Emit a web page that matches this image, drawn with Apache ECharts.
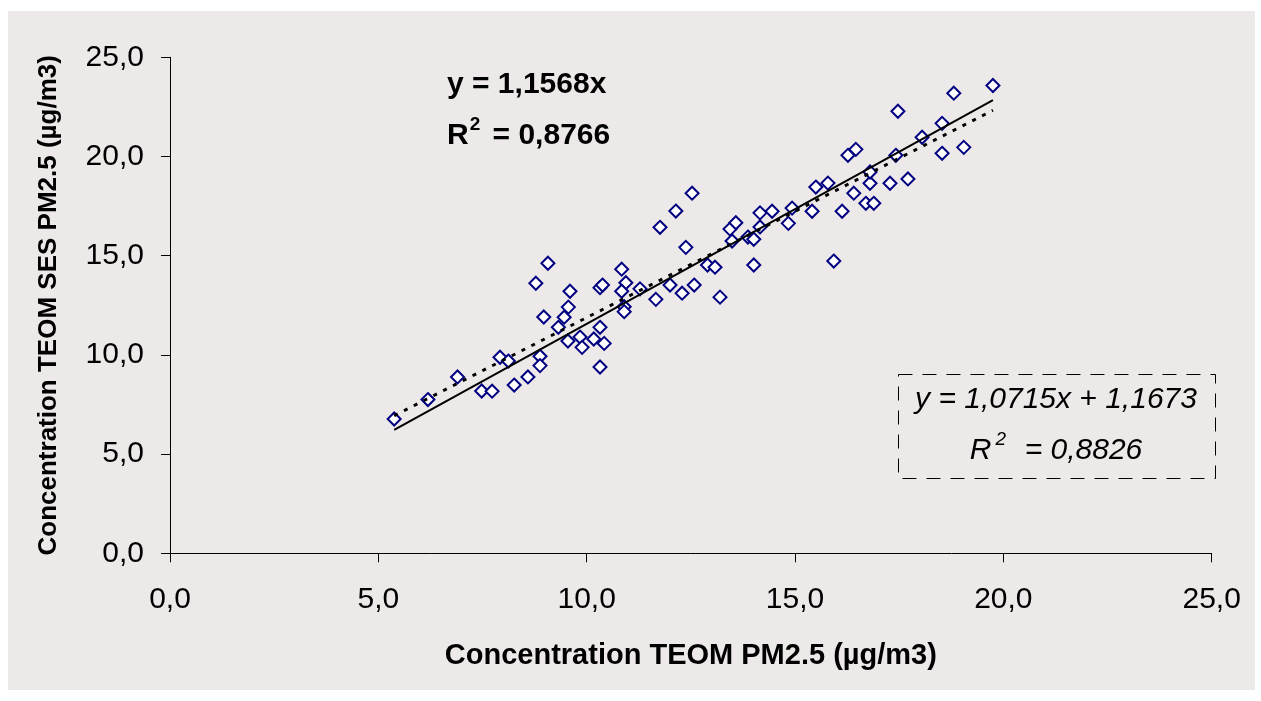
<!DOCTYPE html>
<html>
<head>
<meta charset="utf-8">
<script src="https://cdn.jsdelivr.net/npm/echarts@6/dist/echarts.min.js"></script>
<style>
html,body{margin:0;padding:0;background:#ffffff;}
#chart{width:1261px;height:701px;}
</style>
</head>
<body>
<div id="chart"></div>
<script>
// TEOM PM2.5 (x) vs TEOM SES PM2.5 (y), µg/m3
const xValues = [5.38,6.19,6.90,7.48,7.73,7.92,8.12,8.26,8.59,8.78,
  8.88,8.88,8.97,9.07,9.32,9.46,9.56,9.60,9.55,9.84,
  9.89,10.17,10.32,10.42,10.32,10.32,10.38,10.84,10.94,10.84,
  11.28,10.90,10.90,11.66,11.76,12.14,12.53,12.38,12.00,12.29,
  12.58,12.90,13.08,13.20,13.44,13.58,13.49,13.87,14.01,14.16,
  14.16,14.45,14.01,14.84,14.93,15.41,15.50,15.79,15.93,16.13,
  16.27,16.46,16.41,16.80,16.80,17.28,17.71,16.70,16.89,17.42,
  17.47,18.05,18.53,18.53,18.81,19.05,19.75];
const yValues = [6.77,7.75,8.89,8.18,8.17,9.88,9.69,8.48,8.89,13.61,
  9.93,9.46,11.91,14.62,11.39,11.90,12.41,13.21,10.70,10.90,
  10.38,10.80,11.39,10.58,9.39,13.39,13.52,14.32,13.64,13.21,
  13.33,12.43,12.18,12.80,16.43,17.25,18.15,15.42,13.52,13.11,
  13.52,14.53,14.42,12.91,16.34,16.66,15.74,15.94,15.83,17.16,
  16.45,17.24,14.53,16.63,17.40,17.24,18.46,18.66,14.73,17.24,
  20.06,20.36,18.15,18.65,19.22,18.65,18.87,17.64,17.64,20.06,
  22.28,20.97,21.67,20.16,23.19,20.46,23.58];
// trendlines: [slope, intercept]
const trendThroughOrigin = [1.1568, 0];
const trendLinear = [1.0715, 1.1673];
const axisTicks = [0, 5, 10, 15, 20, 25];
const xAxisTitle = 'Concentration TEOM PM2.5 (µg/m3)';
const yAxisTitle = 'Concentration TEOM SES PM2.5 (µg/m3)';
const eq1 = ['y = 1,1568x', '0,8766'];
const eq2 = ['y = 1,0715x + 1,1673', '0,8826'];

const points = xValues.map((x, i) => [x, yValues[i]]);
const xMin = Math.min(...xValues), xMax = Math.max(...xValues);
const lineOf = (c) => [[xMin, c[0] * xMin + c[1]], [xMax, c[0] * xMax + c[1]]];
const fmt = (v) => v.toFixed(1).replace('.', ',');

const FONT = '"Liberation Sans", Arial, sans-serif';
const chart = echarts.init(document.getElementById('chart'), null, {renderer: 'canvas'});
chart.setOption({
  animation: false,
  backgroundColor: '#ffffff',
  graphic: [
    {type: 'rect', z: -10, shape: {x: 8, y: 11, width: 1247, height: 679}, style: {fill: '#EEE9E9'}},
    {type: 'text', z: 20, left: 447, top: 70, style: {
      text: eq1[0], font: 'bold 30px ' + FONT, fill: '#000'}},
    {type: 'text', z: 20, left: 447, top: 115, style: {
      text: '{a|R}{s|2}{a| = ' + eq1[1] + '}', fill: '#000',
      rich: {a: {font: 'bold 30px ' + FONT, lineHeight: 36, verticalAlign: 'bottom'},
             s: {font: 'bold 19px ' + FONT, lineHeight: 36, verticalAlign: 'top', padding: [0, 4, 0, 1]}}}},
    {type: 'rect', z: 20, shape: {x: 898.5, y: 374.5, width: 317, height: 104},
      style: {fill: 'none', stroke: '#000', lineWidth: 1, lineDash: [14, 10]}},
    {type: 'text', z: 21, x: 1056, y: 400, style: {
      text: eq2[0], font: 'italic 30px ' + FONT, fill: '#000', align: 'center', verticalAlign: 'middle'}},
    {type: 'text', z: 21, x: 1056, y: 448, style: {
      text: '{a|R}{s|2}{a|  = ' + eq2[1] + '}', fill: '#000', align: 'center', verticalAlign: 'middle',
      rich: {a: {font: 'italic 30px ' + FONT, lineHeight: 36, verticalAlign: 'bottom'},
             s: {font: 'italic 19px ' + FONT, lineHeight: 36, verticalAlign: 'top', padding: [0, 2, 0, 4]}}}}
  ],
  grid: {left: 170, top: 57.3, right: 49.3, bottom: 147.7, containLabel: false},
  xAxis: {
    type: 'value', min: axisTicks[0], max: axisTicks[axisTicks.length - 1], interval: axisTicks[1] - axisTicks[0],
    name: xAxisTitle, nameLocation: 'middle', nameGap: 88,
    nameTextStyle: {fontFamily: FONT, fontWeight: 'bold', fontSize: 29, color: '#000'},
    axisLine: {show: true, onZero: false, lineStyle: {color: '#000', width: 1}},
    axisTick: {show: true, inside: false, length: 9, lineStyle: {color: '#000', width: 1}},
    axisLabel: {fontFamily: FONT, fontSize: 30, color: '#000', margin: 31, formatter: fmt},
    splitLine: {show: false}
  },
  yAxis: {
    type: 'value', min: axisTicks[0], max: axisTicks[axisTicks.length - 1], interval: axisTicks[1] - axisTicks[0],
    name: yAxisTitle, nameLocation: 'middle', nameGap: 108, nameRotate: 90,
    nameTextStyle: {fontFamily: FONT, fontWeight: 'bold', fontSize: 26, color: '#000'},
    axisLine: {show: true, onZero: false, lineStyle: {color: '#000', width: 1}},
    axisTick: {show: true, inside: false, length: 9, lineStyle: {color: '#000', width: 1}},
    axisLabel: {fontFamily: FONT, fontSize: 30, color: '#000', margin: 26, formatter: fmt},
    splitLine: {show: false}
  },
  series: [
    {type: 'scatter', data: points, symbol: 'diamond', symbolSize: 13, z: 2,
      itemStyle: {color: '#ffffff', borderColor: '#000080', borderWidth: 2, opacity: 1}},
    {type: 'line', data: lineOf(trendThroughOrigin), symbol: 'none', z: 5,
      lineStyle: {color: '#000', width: 2, type: 'solid'}},
    {type: 'line', data: lineOf(trendLinear), symbol: 'none', z: 5,
      lineStyle: {color: '#000', width: 3, type: [4, 7]}}
  ]
});
</script>
</body>
</html>
